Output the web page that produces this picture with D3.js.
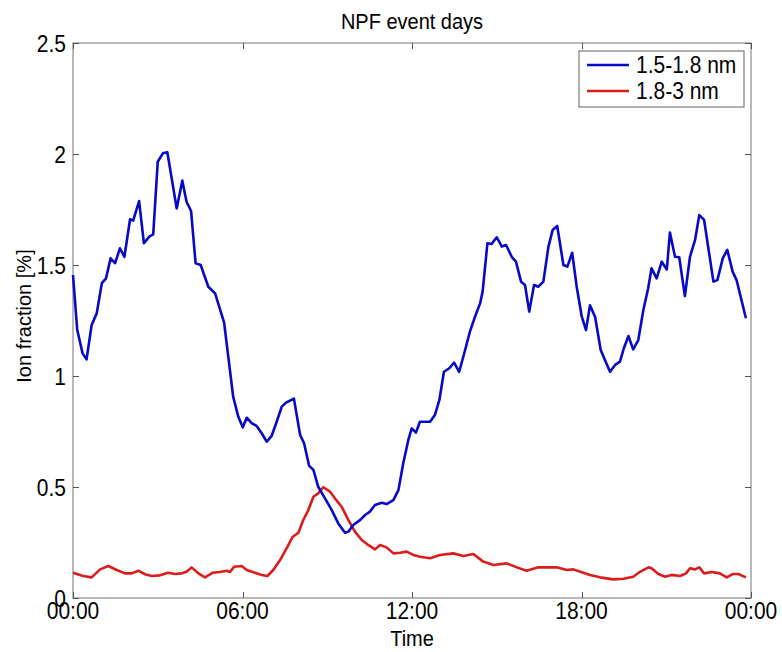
<!DOCTYPE html>
<html>
<head>
<meta charset="utf-8">
<script src="https://cdn.jsdelivr.net/npm/d3@7"></script>
<style>
  html, body { margin: 0; padding: 0; background: #fff; }
  svg { display: block; }
  text { font-family: "Liberation Sans", Arial, Helvetica, sans-serif; fill: #000; }
</style>
</head>
<body>
<svg id="chart" width="782" height="652"></svg>
<script>
// ---------------- data (time in hours, value in %) ----------------
const seriesNames = ["1.5-1.8 nm", "1.8-3 nm"];
const seriesColors = ["#0808c8", "#dc1c1c"];

const blueTime = [0.00,0.15,0.34,0.48,0.66,0.84,1.02,1.17,1.33,1.49,1.66,1.82,2.02,2.13,2.34,2.51,2.70,2.84,3.00,3.18,3.34,3.67,3.87,4.02,4.18,4.34,4.52,4.79,5.03,5.35,5.67,5.85,6.01,6.15,6.33,6.50,6.68,6.86,7.03,7.21,7.39,7.54,7.82,8.04,8.18,8.36,8.51,8.68,8.92,9.16,9.39,9.63,9.75,9.92,10.16,10.34,10.51,10.69,10.93,11.10,11.34,11.52,11.69,11.87,11.99,12.14,12.28,12.64,12.81,12.97,13.13,13.32,13.49,13.67,13.88,14.05,14.23,14.41,14.50,14.67,14.82,15.00,15.18,15.33,15.53,15.68,15.86,16.00,16.15,16.32,16.47,16.65,16.83,16.98,17.14,17.36,17.50,17.67,17.83,18.01,18.16,18.30,18.48,18.68,18.83,19.01,19.19,19.36,19.50,19.66,19.83,20.01,20.19,20.36,20.48,20.66,20.84,21.02,21.13,21.31,21.46,21.66,21.84,22.02,22.17,22.34,22.67,22.81,23.00,23.16,23.35,23.49,23.82];
const blueVal = [1.455,1.207,1.102,1.075,1.230,1.282,1.418,1.440,1.530,1.508,1.575,1.537,1.706,1.700,1.788,1.598,1.628,1.638,1.965,2.003,2.008,1.755,1.880,1.785,1.743,1.508,1.500,1.402,1.372,1.240,0.907,0.817,0.769,0.812,0.787,0.775,0.742,0.704,0.730,0.794,0.862,0.880,0.898,0.734,0.697,0.595,0.577,0.501,0.449,0.396,0.336,0.294,0.299,0.329,0.351,0.374,0.389,0.419,0.429,0.423,0.441,0.486,0.607,0.712,0.764,0.745,0.794,0.794,0.824,0.892,1.019,1.035,1.060,1.019,1.117,1.200,1.267,1.327,1.380,1.598,1.595,1.625,1.583,1.590,1.537,1.515,1.425,1.410,1.290,1.410,1.402,1.425,1.583,1.658,1.676,1.500,1.493,1.555,1.402,1.267,1.207,1.318,1.267,1.117,1.072,1.019,1.050,1.065,1.125,1.180,1.120,1.162,1.297,1.395,1.485,1.440,1.515,1.480,1.646,1.537,1.535,1.360,1.537,1.613,1.725,1.703,1.425,1.432,1.530,1.568,1.470,1.432,1.260];

const redTime = [0.00,0.36,0.66,0.96,1.25,1.55,1.84,2.08,2.31,2.55,2.79,3.08,3.37,3.61,3.85,4.02,4.20,4.44,4.67,4.95,5.20,5.44,5.56,5.70,5.97,6.15,6.44,6.68,6.88,7.09,7.33,7.56,7.78,7.98,8.15,8.33,8.51,8.68,8.86,9.10,9.27,9.51,9.75,9.98,10.22,10.45,10.69,10.87,11.10,11.34,11.58,11.81,12.05,12.28,12.64,12.99,13.46,13.82,14.17,14.52,14.88,15.35,15.71,16.06,16.47,17.12,17.48,17.71,18.01,18.30,18.65,19.13,19.48,19.83,20.07,20.37,20.48,20.72,20.96,21.19,21.49,21.70,21.84,22.02,22.17,22.34,22.61,22.90,23.14,23.35,23.55,23.82];
const redVal = [0.114,0.099,0.093,0.129,0.144,0.126,0.111,0.111,0.123,0.107,0.099,0.102,0.114,0.108,0.111,0.118,0.138,0.111,0.093,0.114,0.117,0.123,0.117,0.141,0.144,0.126,0.114,0.104,0.099,0.126,0.171,0.224,0.276,0.294,0.351,0.396,0.456,0.471,0.499,0.479,0.449,0.411,0.351,0.299,0.261,0.239,0.219,0.239,0.228,0.201,0.204,0.209,0.194,0.186,0.179,0.194,0.201,0.189,0.198,0.164,0.149,0.156,0.138,0.123,0.138,0.138,0.126,0.129,0.116,0.104,0.093,0.084,0.087,0.096,0.118,0.138,0.134,0.108,0.096,0.104,0.099,0.111,0.134,0.129,0.138,0.111,0.117,0.111,0.093,0.108,0.108,0.093];

const xTicks = [0, 6, 12, 18, 24];
const xTickLabels = ["00:00", "06:00", "12:00", "18:00", "00:00"];
const yTicks = [0, 0.5, 1, 1.5, 2, 2.5];
const yTickLabels = ["0", "0.5", "1", "1.5", "2", "2.5"];

const titleText = "NPF event days";
const xLabel = "Time";
const yLabel = "Ion fraction [%]";

// ---------------- layout ----------------
const L = 73, R = 751, T = 43, B = 598;
const SY = 1.12;         // slight vertical stretch of glyphs as in the reference
const FS = 21;

const svg = d3.select("#chart");
const x = d3.scaleLinear().domain([0, 24]).range([L, R]);
const y = d3.scaleLinear().domain([0, 2.5]).range([B, T]);

function txt(g, px, py, s, anchor, size, extra) {
  return g.append("text")
    .attr("transform", `translate(${px},${py}) scale(1,${SY})` + (extra || ""))
    .attr("text-anchor", anchor)
    .attr("font-size", size)
    .text(s);
}

// frame
svg.append("rect")
  .attr("x", L).attr("y", T).attr("width", R - L).attr("height", B - T)
  .attr("fill", "#fff").attr("stroke", "#8a8a8a").attr("stroke-width", 1.2);

const tickLen = 6;
const tg = svg.append("g").attr("stroke", "#555").attr("stroke-width", 1);
xTicks.forEach(t => {
  const px = Math.round(x(t)) + 0.5;
  tg.append("line").attr("x1", px).attr("x2", px).attr("y1", B).attr("y2", B - tickLen);
  tg.append("line").attr("x1", px).attr("x2", px).attr("y1", T).attr("y2", T + tickLen);
});
yTicks.forEach(t => {
  const py = Math.round(y(t)) + 0.5;
  tg.append("line").attr("x1", L).attr("x2", L + tickLen).attr("y1", py).attr("y2", py);
  tg.append("line").attr("x1", R).attr("x2", R - tickLen).attr("y1", py).attr("y2", py);
});

// tick labels
const lg = svg.append("g");
xTicks.forEach((t, i) => txt(lg, x(t), 619, xTickLabels[i], "middle", FS));
yTicks.forEach((t, i) => txt(lg, 66, y(t) + 8.5, yTickLabels[i], "end", FS));

// titles
txt(svg, (L + R) / 2, 29, titleText, "middle", 20);
txt(svg, (L + R) / 2, 646, xLabel, "middle", 20);
svg.append("text")
  .attr("transform", `translate(31,316) rotate(-90)`)
  .attr("text-anchor", "middle")
  .attr("font-size", 20)
  .text(yLabel);

// lines
const line = d3.line().x(d => x(d[0])).y(d => y(d[1]));
const blue = blueTime.map((t, i) => [t, blueVal[i]]);
const red = redTime.map((t, i) => [t, redVal[i]]);

const plot = svg.append("g");
plot.append("path").datum(red)
  .attr("d", line).attr("fill", "none")
  .attr("stroke", seriesColors[1]).attr("stroke-width", 2.6).attr("stroke-linejoin", "round");
plot.append("path").datum(blue)
  .attr("d", line).attr("fill", "none")
  .attr("stroke", seriesColors[0]).attr("stroke-width", 2.6).attr("stroke-linejoin", "round");

// legend
const leg = svg.append("g");
leg.append("rect").attr("x", 579).attr("y", 51).attr("width", 165).attr("height", 56)
  .attr("fill", "#fff").attr("stroke", "#7a7a7a").attr("stroke-width", 1.2);
const legRows = [65, 91];
seriesNames.forEach((n, i) => {
  leg.append("line").attr("x1", 587).attr("x2", 629)
    .attr("y1", legRows[i]).attr("y2", legRows[i])
    .attr("stroke", seriesColors[i]).attr("stroke-width", 2.6);
  txt(leg, 636, legRows[i] + 8, n, "start", FS);
});
</script>
</body>
</html>
